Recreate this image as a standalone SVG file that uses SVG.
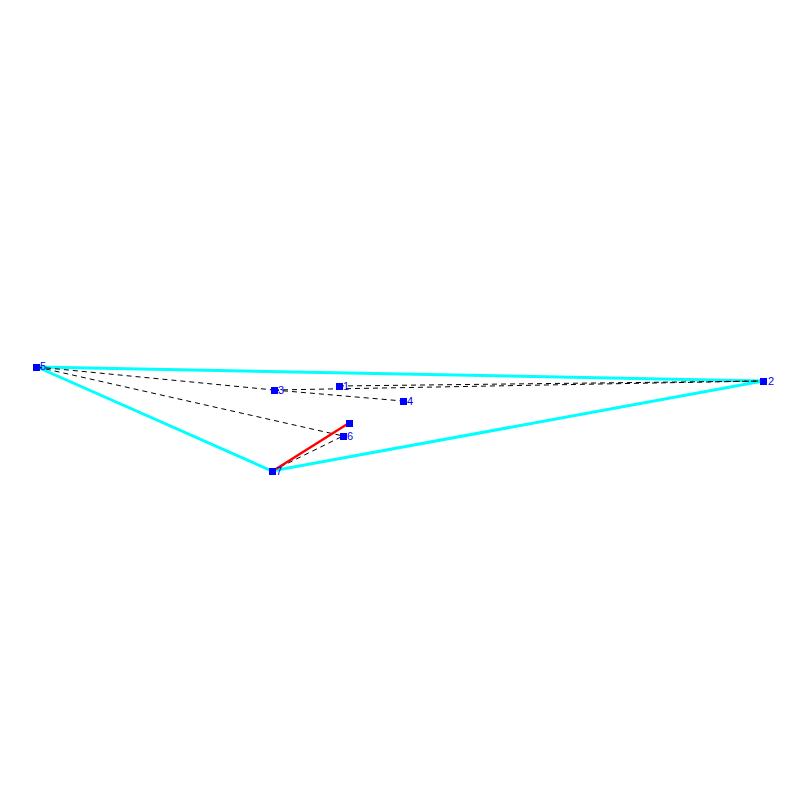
<svg xmlns="http://www.w3.org/2000/svg" width="800" height="800" viewBox="0 0 800 800">
<style>
.hull{stroke:#00ffff;stroke-width:3;fill:none}
.dash{stroke:#000;stroke-width:1;stroke-dasharray:5,4;fill:none}
.red{stroke:#ff0000;stroke-width:2.5;fill:none}
.pt{fill:#0000ff}
.lbl{fill:#0000ff;font-family:"Liberation Sans",Arial,sans-serif;font-size:11px;dominant-baseline:central}
</style>
<rect width="800" height="800" fill="#fff"/>
<g id="connectors">
<polygon class="hull" points="37,367 763,381 272,471"/>
<line class="dash" x1="37" y1="367" x2="274" y2="390"/>
<line class="dash" x1="37" y1="367" x2="343" y2="436"/>
<line class="dash" x1="274" y1="390" x2="763" y2="381"/>
<line class="dash" x1="339" y1="386" x2="763" y2="381"/>
<line class="dash" x1="274" y1="390" x2="403" y2="401"/>
<line class="dash" x1="272" y1="471" x2="343" y2="436"/>
<line class="red" x1="276" y1="469" x2="349" y2="423"/>
</g>
<g id="n1"><rect class="pt" x="336" y="383" width="7" height="7"/><text class="lbl" x="343" y="386">1</text></g>
<g id="n2"><rect class="pt" x="760" y="378" width="7" height="7"/><text class="lbl" x="768" y="381">2</text></g>
<g id="n3"><rect class="pt" x="271" y="387" width="7" height="7"/><text class="lbl" x="278" y="390">3</text></g>
<g id="n4"><rect class="pt" x="400" y="398" width="7" height="7"/><text class="lbl" x="407" y="401">4</text></g>
<g id="n5"><rect class="pt" x="33" y="364" width="7" height="7"/><text class="lbl" x="40" y="366">5</text></g>
<g id="n6"><rect class="pt" x="340" y="433" width="7" height="7"/><text class="lbl" x="347" y="436">6</text></g>
<g id="n7"><rect class="pt" x="269" y="468" width="7" height="7"/><text class="lbl" x="276" y="471">7</text></g>
<g id="n8"><rect class="pt" x="346" y="420" width="7" height="7"/></g>
</svg>
